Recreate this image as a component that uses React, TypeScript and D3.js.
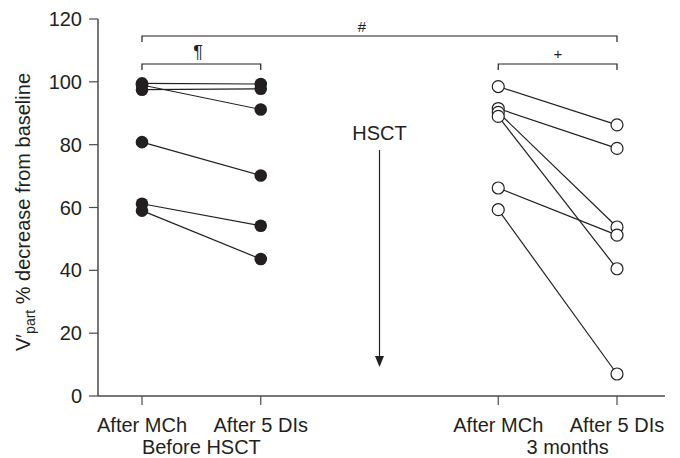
import { useEffect } from "react";
import * as d3 from "d3";

// categories along the x axis ("gap" holds the HSCT arrow)
const X_SLOTS = ["preMCh", "preDI", "gap", "postMCh", "postDI"];
const X_TICK_LABELS = [
  { slot: "preMCh", label: "After MCh" },
  { slot: "preDI", label: "After 5 DIs" },
  { slot: "postMCh", label: "After MCh" },
  { slot: "postDI", label: "After 5 DIs" },
];
const GROUP_LABELS = [
  { from: "preMCh", to: "preDI", label: "Before HSCT", dx: 0 },
  { from: "postMCh", to: "postDI", label: "3 months", dx: 10 },
];
const Y_TICKS = [0, 20, 40, 60, 80, 100, 120];

// before HSCT (filled), one entry per patient
const PRE_MCH = [99.5, 99.0, 97.5, 80.8, 61.2, 59.0];
const PRE_DI = [99.3, 91.2, 97.8, 70.2, 54.2, 43.6];

// 3 months after HSCT (open)
const POST_MCH = [98.5, 91.5, 90.3, 89.0, 66.2, 59.3];
const POST_DI = [86.3, 78.8, 53.8, 40.5, 51.2, 7.0];

const INK = "#231f20";
const AXIS = "#4a4a4a";
const FONT = "Liberation Sans, Arial, Helvetica, sans-serif";

export default function App() {
  useEffect(() => {
    document.body.style.margin = "0";
  }, []);

  const W = 680;
  const H = 458;
  const axisX = 98;
  const axisY = 396;

  const x = d3.scalePoint<string>().domain(X_SLOTS).range([142, 617]);
  const y = d3.scaleLinear().domain([0, 120]).range([396, 19]);

  const pre = PRE_MCH.map((v, i) => [v, PRE_DI[i]]);
  const post = POST_MCH.map((v, i) => [v, POST_DI[i]]);
  const line = d3.line<[number, number]>();

  const bracket = (x0: number, x1: number, yy: number) =>
    `M${x0},${yy + 6}V${yy}H${x1}V${yy + 6}`;

  const arrowX = x("gap")!;

  return (
    <svg width={W} height={H} style={{ display: "block", fontFamily: FONT }}>
      <rect width={W} height={H} fill="#fff" />

      {/* axes */}
      <line x1={axisX} x2={axisX} y1={y(120)} y2={axisY} stroke={AXIS} strokeWidth={1.5} />
      <line x1={axisX} x2={665} y1={axisY} y2={axisY} stroke={AXIS} strokeWidth={1.5} />
      {Y_TICKS.map((t) => (
        <g key={t}>
          <line x1={axisX - 9} x2={axisX} y1={y(t)} y2={y(t)} stroke={AXIS} strokeWidth={1.2} />
          <text x={axisX - 16} y={y(t)} dy="0.35em" textAnchor="end" fontSize={20} fill={INK}>
            {t}
          </text>
        </g>
      ))}
      {X_TICK_LABELS.map((d, i) => (
        <g key={i}>
          <line x1={x(d.slot)} x2={x(d.slot)} y1={axisY} y2={axisY + 9} stroke={AXIS} strokeWidth={1.2} />
          <text x={x(d.slot)} y={432} textAnchor="middle" fontSize={20} fill={INK}>
            {d.label}
          </text>
        </g>
      ))}
      {GROUP_LABELS.map((g, i) => (
        <text key={i} x={(x(g.from)! + x(g.to)!) / 2 + g.dx} y={454} textAnchor="middle" fontSize={20} fill={INK}>
          {g.label}
        </text>
      ))}

      {/* y label */}
      <text transform="translate(30,212) rotate(-90)" textAnchor="middle" fontSize={20} fill={INK}>
        V′<tspan fontSize={14} dy={5}>part</tspan>
        <tspan dy={-5}> % decrease from baseline</tspan>
      </text>

      {/* significance brackets */}
      <path d={bracket(x("preMCh")!, x("postDI")!, 36)} fill="none" stroke={INK} strokeWidth={1.2} />
      <text x={362} y={32} textAnchor="middle" fontSize={15} fill={INK}>#</text>
      <path d={bracket(x("preMCh")!, x("preDI")!, 64)} fill="none" stroke={INK} strokeWidth={1.2} />
      <text x={198} y={58} textAnchor="middle" fontSize={18} fill={INK}>¶</text>
      <path d={bracket(x("postMCh")!, x("postDI")!, 64)} fill="none" stroke={INK} strokeWidth={1.2} />
      <text x={558} y={59} textAnchor="middle" fontSize={15} fill={INK}>+</text>

      {/* HSCT arrow */}
      <text x={arrowX} y={140} textAnchor="middle" fontSize={20} fill={INK}>HSCT</text>
      <line x1={arrowX} x2={arrowX} y1={150} y2={358} stroke={INK} strokeWidth={1.2} />
      <path d={`M${arrowX - 4.5},${356}L${arrowX + 4.5},${356}L${arrowX},${367}Z`} fill={INK} />

      {/* before HSCT */}
      {pre.map((d, i) => (
        <path
          key={"pl" + i}
          d={line([[x("preMCh")!, y(d[0])], [x("preDI")!, y(d[1])]])!}
          stroke={INK}
          strokeWidth={1.2}
          fill="none"
        />
      ))}
      {pre.map((d, i) => (
        <g key={"pp" + i}>
          <circle cx={x("preMCh")} cy={y(d[0])} r={6.3} fill={INK} />
          <circle cx={x("preDI")} cy={y(d[1])} r={6.3} fill={INK} />
        </g>
      ))}

      {/* 3 months */}
      {post.map((d, i) => (
        <path
          key={"ql" + i}
          d={line([[x("postMCh")!, y(d[0])], [x("postDI")!, y(d[1])]])!}
          stroke={INK}
          strokeWidth={1.2}
          fill="none"
        />
      ))}
      {post.map((d, i) => (
        <g key={"qp" + i}>
          <circle cx={x("postMCh")} cy={y(d[0])} r={6} fill="#fff" stroke={INK} strokeWidth={1.2} />
          <circle cx={x("postDI")} cy={y(d[1])} r={6} fill="#fff" stroke={INK} strokeWidth={1.2} />
        </g>
      ))}
    </svg>
  );
}
